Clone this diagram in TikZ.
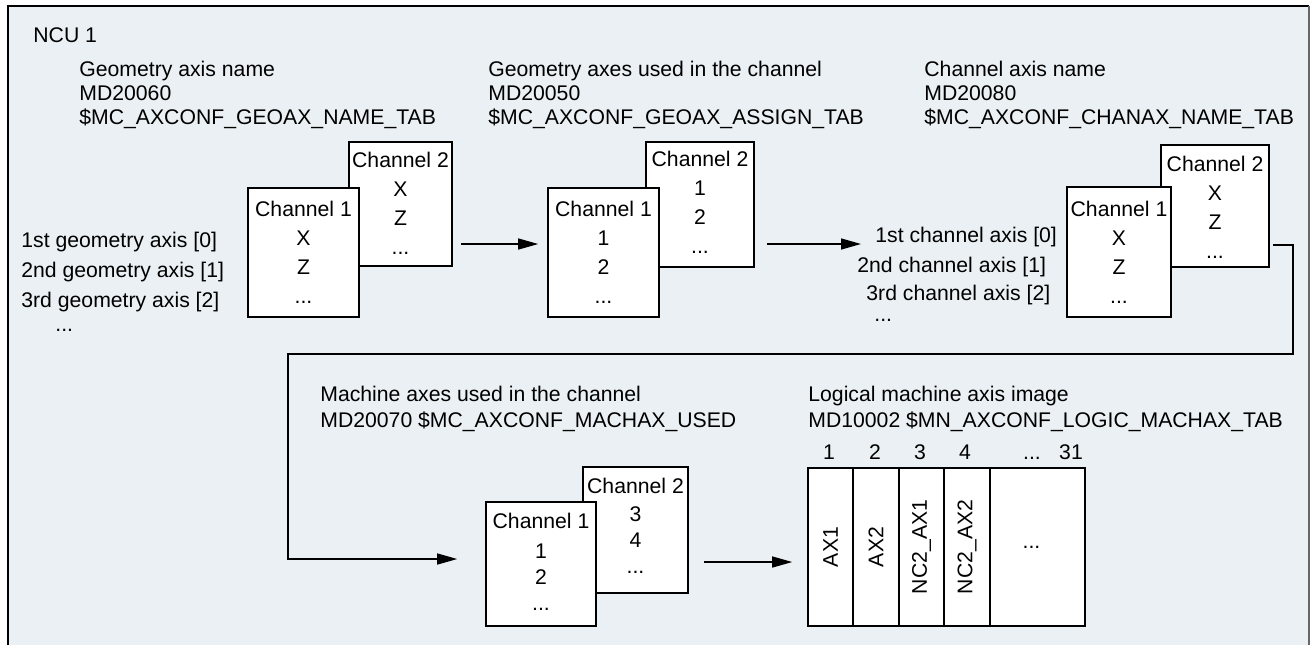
\documentclass[tikz,border=0pt]{standalone}
\usepackage{fontspec}
\setmainfont{Liberation Sans}
\usetikzlibrary{positioning}
\usetikzlibrary{arrows.meta}

\definecolor{panelbg}{RGB}{234,240,243}

\begin{document}
\begin{tikzpicture}[x=0.5pt, y=-0.5pt,
    every node/.style={inner sep=0pt, font=\fontsize{10.6}{12}\selectfont},
    hdr/.style={anchor=north west, align=left},
    chbox/.style={draw, fill=white, line width=0.8pt},
    chtxt/.style={align=center, font=\fontsize{10.6}{14.5}\selectfont},
    machtxt/.style={align=center, font=\fontsize{10.6}{13}\selectfont},
    vcell/.style={draw, fill=white, line width=0.8pt, rotate=90, minimum width=79pt},
    arr/.style={-{Triangle[length=10pt,width=5.5pt]}, line width=0.7pt}]
        \useasboundingbox (0,0) rectangle (1310,645);

        % panel
        \fill[panelbg] (8,6) rectangle (1309,645);
        \draw[line width=1pt] (8,645) -- (8,6) -- (1309,6);
        \draw[line width=1pt, black!60] (1309,6) -- (1309,645);

        \node[anchor=west] (ncu) at (33,35) {NCU 1};

        % headers
        \node[hdr] (geohdr) at (79,61) {Geometry axis name\\MD20060\\\$MC\_AXCONF\_GEOAX\_NAME\_TAB};
        \node[hdr] (asghdr) at (488,61) {Geometry axes used in the channel\\MD20050\\\$MC\_AXCONF\_GEOAX\_ASSIGN\_TAB};
        \node[hdr] (chnhdr) at (924,61) {Channel axis name\\MD20080\\\$MC\_AXCONF\_CHANAX\_NAME\_TAB};
        \node[hdr, font=\fontsize{10.6}{13}\selectfont] (machhdr) at (320,385.5) {Machine axes used in the channel\\MD20070 \$MC\_AXCONF\_MACHAX\_USED};
        \node[hdr, font=\fontsize{10.6}{13}\selectfont] (loghdr) at (808,385.5) {Logical machine axis image\\MD10002 \$MN\_AXCONF\_LOGIC\_MACHAX\_TAB};

        % geometry axis names
        \node[hdr, font=\fontsize{10.6}{15}\selectfont] (geolbl) at (21,232) {1st geometry axis [0]\\2nd geometry axis [1]\\3rd geometry axis [2]\\[-3pt]\hspace*{17pt}...};

        \node[chbox, minimum width=51.5pt, minimum height=62pt] (geo2) at (400.5,204) {};
        \node[chtxt, below=5.5pt of geo2.north] (geo2txt) {Channel 2\\X\\Z\\...};
        \node[chbox, minimum width=55.5pt, minimum height=64.5pt] (geo1) at (303.5,252.5) {};
        \node[chtxt, below=7pt of geo1.north] (geo1txt) {Channel 1\\X\\Z\\...};

        % geometry axis assignment
        \node[chbox, minimum width=54pt, minimum height=62.5pt] (asg2) at (700,204.5) {};
        \node[chtxt, below=5pt of asg2.north] (asg2txt) {Channel 2\\1\\2\\...};
        \node[chbox, minimum width=55.5pt, minimum height=64.5pt] (asg1) at (603.5,252.5) {};
        \node[chtxt, below=7pt of asg1.north] (asg1txt) {Channel 1\\1\\2\\...};

        % channel axis names
        \node[anchor=base west] (chnlbl1) at (875,242.5) {1st channel axis [0]};
        \node[anchor=base west] (chnlbl2) at (857,272.5) {2nd channel axis [1]};
        \node[anchor=base west] (chnlbl3) at (866,300.5) {3rd channel axis [2]};
        \node[anchor=base west] (chnlbl4) at (874,321) {...};

        \node[chbox, minimum width=54pt, minimum height=61pt] (chn2) at (1215,206) {};
        \node[chtxt, below=6pt of chn2.north] (chn2txt) {Channel 2\\X\\Z\\...};
        \node[chbox, minimum width=52pt, minimum height=65pt] (chn1) at (1119,252) {};
        \node[chtxt, below=7.5pt of chn1.north] (chn1txt) {Channel 1\\X\\Z\\...};

        % machine axes
        \node[chbox, minimum width=52.5pt, minimum height=63pt] (mach2) at (635.5,530) {};
        \node[machtxt, below=6pt of mach2.north] (mach2txt) {Channel 2\\[1pt]3\\4\\...};
        \node[chbox, minimum width=55pt, minimum height=62pt] (mach1) at (541,564) {};
        \node[machtxt, below=6pt of mach1.north] (mach1txt) {Channel 1\\[2pt]1\\2\\...};

        % logical machine axis image
        \node[vcell, minimum height=22.5pt] (c1) at (830.5,547) {AX1};
        \node[vcell, minimum height=23pt] (c2) at (876,547) {AX2};
        \node[vcell, minimum height=22.5pt] (c3) at (921.5,547) {NC2\_AX1};
        \node[vcell, minimum height=23pt] (c4) at (967,547) {NC2\_AX2};
        \node[draw, fill=white, line width=0.8pt, minimum width=47.5pt, minimum height=79pt] (c5) at (1037.5,547) {...\hspace*{6pt}};

        \node[anchor=base] (n1) at (829,459.5) {1};
        \node[anchor=base] (n2) at (875,459.5) {2};
        \node[anchor=base] (n3) at (920,459.5) {3};
        \node[anchor=base] (n4) at (965,459.5) {4};
        \node[anchor=base] (n5) at (1032,459.5) {...};
        \node[anchor=base] (n31) at (1071,459.5) {31};

        % connectors
        \coordinate (a1) at (0,244);
        \coordinate (a4) at (0,562);
        \coordinate (r1) at (1273,245);
        \coordinate (r2) at (1293,354);
        \coordinate (r3) at (288,559);

        \draw[arr, shorten <=4pt, shorten >=4.5pt] (geo2.east |- a1) -- (asg1.west |- a1);
        \draw[arr, shorten <=6pt, shorten >=7pt] (asg2.east |- a1) -- (chnlbl1.west |- a1);
        \draw[arr, shorten >=14pt] (r1) -| (r2) -| (r3) -- (r3 -| mach1.west);
        \draw[arr, shorten <=7.5pt, shorten >=7.5pt] (mach2.east |- a4) -- (c1.north |- a4);
      \end{tikzpicture}
\end{document}
